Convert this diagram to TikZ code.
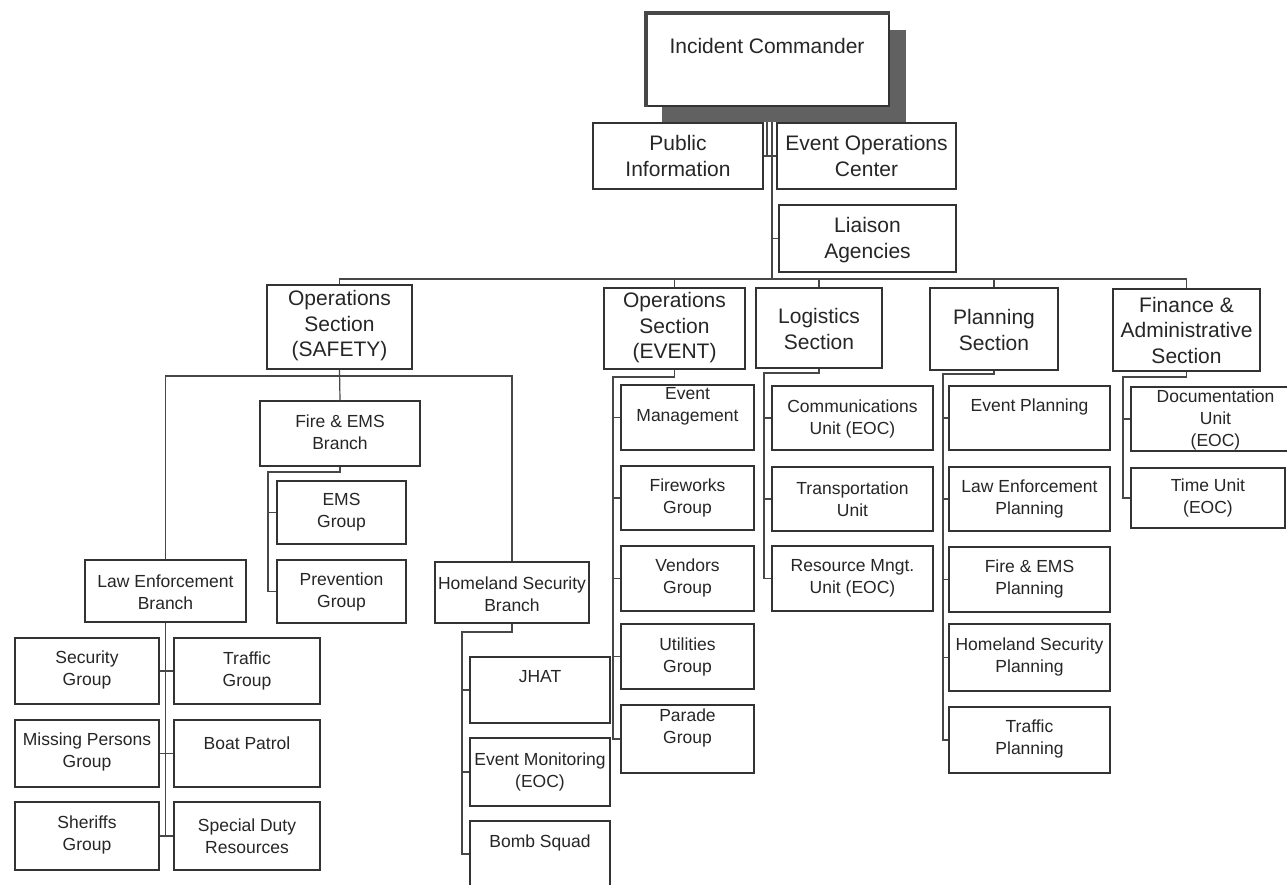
\documentclass[tikz,border=0pt]{standalone}
\usepackage{fontspec}
\setmainfont{Liberation Sans}
\begin{document}
\begin{tikzpicture}[x=1pt,y=-1pt,
  box/.style={draw=black!80, line width=1.4pt, fill=white, inner sep=0pt},
  lnk/.style={draw=black!72, line width=1.2pt},
  bigt/.style={align=center, text=black!85, inner sep=0pt, font=\fontsize{21}{25.5}\selectfont},
  smt/.style={align=center, text=black!85, inner sep=0pt, font=\fontsize{17.5}{22}\selectfont}]
\newcommand{\mkbox}[8]{%
  \node[box, minimum width={(#5-#3)*1pt}, minimum height={(#6-#4)*1pt}] (#1) at ({(#3+#5)/2},{(#4+#6)/2}) {};
  \node[#2] (#1-t) at ({(#3+#5)/2},#7) {#8};}
\useasboundingbox[fill=white] (0,0) rectangle (1287,884);

% ---------- connectors (drawn first, boxes cover them) ----------
\coordinate (bus) at (772,279);
\coordinate (trunktop) at (772,122);
\coordinate (pitop) at (767,122);
\coordinate (pijoin) at (767,156);
\coordinate (busS) at (340,376);
\coordinate (fv) at (268,472);
\coordinate (hv) at (462,632);
\coordinate (ev) at (613,377);
\coordinate (lv) at (764,373);
\coordinate (pv) at (943,374);
\coordinate (nv) at (1123,377);

% ---------- boxes ----------
\fill[black!62] (662,30) rectangle (906,122);
\mkbox{ic}{bigt}{645}{13}{889}{106}{46}{Incident Commander}
\draw[line width=4pt, black!72] ([xshift=2pt]ic.south west) -- ([xshift=2pt,yshift=-1pt]ic.north west) -- ([yshift=-1pt]ic.north east);

\draw[lnk] (trunktop) -- (bus);
\draw[lnk] (pitop) -- (pijoin);

\mkbox{pi}{bigt}{593}{123}{763}{189}{156}{Public\\Information}
\mkbox{eoc}{bigt}{777}{123}{956}{189}{156}{Event Operations\\Center}
\mkbox{lia}{bigt}{779}{205}{956}{272}{240}{Liaison\\Agencies}
\mkbox{opsS}{bigt}{267}{285}{412}{369}{326}{Operations\\Section\\(SAFETY)}
\mkbox{opsE}{bigt}{604}{288}{745}{369}{328}{Operations\\Section\\(EVENT)}
\mkbox{log}{bigt}{756}{288}{882}{368}{329}{Logistics\\Section}
\mkbox{pla}{bigt}{930}{288}{1058}{370}{330}{Planning\\Section}
\mkbox{fin}{bigt}{1113}{289}{1260}{371}{330}{Finance \&\\Administrative\\Section}

\mkbox{fireB}{smt}{260}{401}{420}{466}{432}{Fire \& EMS\\Branch}
\mkbox{ems}{smt}{277}{481}{406}{544}{512}{EMS\\Group}
\mkbox{prev}{smt}{277}{560}{406}{623}{592}{Prevention\\Group}
\mkbox{leB}{smt}{85}{560}{246}{622}{592}{Law Enforcement\\Branch}
\mkbox{hsB}{smt}{435}{562}{589}{623}{594}{Homeland Security\\Branch}

\mkbox{sec}{smt}{15}{638}{159}{704}{670}{Security\\Group}
\mkbox{traf}{smt}{174}{638}{320}{704}{671}{Traffic\\Group}
\mkbox{miss}{smt}{15}{720}{159}{787}{752}{Missing Persons\\Group}
\mkbox{boat}{smt}{174}{720}{320}{787}{743}{Boat Patrol}
\mkbox{sher}{smt}{15}{802}{159}{870}{835}{Sheriffs\\Group}
\mkbox{spec}{smt}{174}{802}{320}{870}{836}{Special Duty\\Resources}

\mkbox{jhat}{smt}{470}{657}{610}{723}{677}{JHAT}
\mkbox{evm}{smt}{470}{738}{610}{806}{772}{Event Monitoring\\(EOC)}
\mkbox{bomb}{smt}{470}{821}{610}{887}{843}{Bomb Squad}

\mkbox{evmg}{smt}{621}{385}{754}{450}{406}{Event\\Management}
\mkbox{fw}{smt}{621}{466}{754}{530}{498}{Fireworks\\Group}
\mkbox{vend}{smt}{621}{546}{754}{611}{578}{Vendors\\Group}
\mkbox{util}{smt}{621}{624}{754}{689}{657}{Utilities\\Group}
\mkbox{par}{smt}{621}{705}{754}{773}{728}{Parade\\Group}

\mkbox{comm}{smt}{772}{386}{933}{450}{419}{Communications\\Unit (EOC)}
\mkbox{trans}{smt}{772}{467}{933}{531}{499}{Transportation\\Unit}
\mkbox{res}{smt}{772}{546}{933}{611}{578}{Resource Mngt.\\Unit (EOC)}

\mkbox{evp}{smt}{949}{386}{1110}{450}{407}{Event Planning}
\mkbox{lep}{smt}{949}{467}{1110}{531}{499}{Law Enforcement\\Planning}
\mkbox{fep}{smt}{949}{547}{1110}{612}{579}{Fire \& EMS\\Planning}
\mkbox{hsp}{smt}{949}{624}{1110}{691}{657}{Homeland Security\\Planning}
\mkbox{trp}{smt}{949}{707}{1110}{773}{739}{Traffic\\Planning}

\mkbox{doc}{smt}{1131}{387}{1300}{451}{420}{Documentation\\Unit\\(EOC)}
\mkbox{time}{smt}{1131}{468}{1285}{528}{498}{Time Unit\\(EOC)}

% ---------- connectors between boxes ----------
\draw[lnk] (pi.east) -- (eoc.west);
\draw[lnk] (lia.west) -- (lia.west -| bus);
\draw[lnk] (opsS.north) |- (fin.north |- bus) -- (fin.north);
\draw[lnk] (opsE.north) -- (opsE.north |- bus);
\draw[lnk] (log.north) -- (log.north |- bus);
\draw[lnk] (pla.north) -- (pla.north |- bus);

% safety
\draw[lnk] (opsS.south) -- (fireB.north);
\draw[lnk] (leB.north) |- (hsB.north |- busS) -- (hsB.north);
\draw[lnk] (fireB.south) |- (fv) |- (prev.west);
\draw[lnk] (ems.west) -- (ems.west -| fv);
\draw[lnk] (leB.south) -- (leB.south |- sher.east);
\draw[lnk] (sec.east) -- (traf.west);
\draw[lnk] (miss.east) -- (boat.west);
\draw[lnk] (sher.east) -- (spec.west);
\draw[lnk] (hsB.south) |- (hv) |- (bomb.west);
\draw[lnk] (jhat.west) -- (jhat.west -| hv);
\draw[lnk] (evm.west) -- (evm.west -| hv);

% event
\draw[lnk] (opsE.south) |- (ev) |- (par.west);
\draw[lnk] (evmg.west) -- (evmg.west -| ev);
\draw[lnk] (fw.west) -- (fw.west -| ev);
\draw[lnk] (vend.west) -- (vend.west -| ev);
\draw[lnk] (util.west) -- (util.west -| ev);

% logistics
\draw[lnk] (log.south) |- (lv) |- (res.west);
\draw[lnk] (comm.west) -- (comm.west -| lv);
\draw[lnk] (trans.west) -- (trans.west -| lv);

% planning
\draw[lnk] (pla.south) |- (pv) |- (trp.west);
\draw[lnk] (evp.west) -- (evp.west -| pv);
\draw[lnk] (lep.west) -- (lep.west -| pv);
\draw[lnk] (fep.west) -- (fep.west -| pv);
\draw[lnk] (hsp.west) -- (hsp.west -| pv);

% finance
\draw[lnk] (fin.south) |- (nv) |- (time.west);
\draw[lnk] (doc.west) -- (doc.west -| nv);
\end{tikzpicture}
\end{document}
